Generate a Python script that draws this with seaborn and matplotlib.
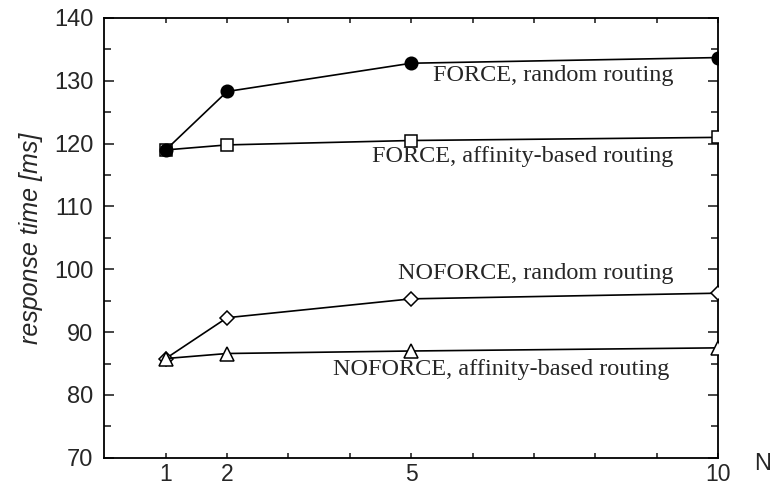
import matplotlib
matplotlib.use("Agg")
import matplotlib.pyplot as plt
import pandas as pd
import seaborn as sns

# N values and response times [ms]
n_values = [1, 2, 5, 10]
force_random = [119.0, 128.3, 132.8, 133.7]
force_affinity = [119.0, 119.8, 120.5, 121.0]
noforce_random = [85.8, 92.3, 95.3, 96.2]
noforce_affinity = [85.8, 86.6, 87.0, 87.5]

labels = ["FORCE, random routing", "FORCE, affinity-based routing",
          "NOFORCE, random routing", "NOFORCE, affinity-based routing"]

df = pd.DataFrame({
    "N": n_values * 4,
    "time": force_random + force_affinity + noforce_random + noforce_affinity,
    "series": [l for l in labels for _ in n_values],
})

sns.set_style("ticks")
plt.rcParams["font.family"] = ["Liberation Sans", "DejaVu Sans"]

fig = plt.figure(figsize=(7.73, 4.86), dpi=100)
ax = fig.add_axes([0.135, 0.058, 0.794, 0.905])

markers = {labels[0]: "o", labels[1]: "s", labels[2]: "D", labels[3]: "^"}
sizes = {labels[0]: 9, labels[1]: 8, labels[2]: 7, labels[3]: 10}
# draw order so the filled circle and the triangle sit on top at N=1
order = [labels[1], labels[0], labels[2], labels[3]]
for z, lab in enumerate(order):
    sub = df[df["series"] == lab]
    filled = lab == labels[0]
    sns.lineplot(data=sub, x="N", y="time", ax=ax, color="black", linewidth=1.2,
                 marker=markers[lab], markersize=sizes[lab],
                 markerfacecolor="black" if filled else "white",
                 markeredgecolor="black", markeredgewidth=1.1, legend=False,
                 zorder=3 + z)

# series annotations (right aligned, below each line)
text_pos = [(9.27, 130.8), (9.27, 117.9), (9.27, 99.4), (9.2, 84.0)]
for lab, (tx, ty) in zip(labels, text_pos):
    ax.text(tx, ty, lab, ha="right", va="center", fontsize=17.5,
            family=["Liberation Serif", "DejaVu Serif"])

ax.set_xlim(0, 10)
ax.set_ylim(70, 140)
ax.set_xticks([1, 2, 3, 4, 5, 6, 7, 8, 9, 10])
ax.set_xticklabels(["1", "2", "", "", "5", "", "", "", "", "10"])
ax.set_yticks(range(70, 141, 10))
ax.set_yticks(range(75, 140, 10), minor=True)
ax.tick_params(axis="both", which="both", direction="in", top=True, right=True,
               width=1.2, labelsize=17)
ax.tick_params(axis="x", which="major", length=3.5, pad=4, labelsize=16.5)
ax.tick_params(axis="y", which="major", length=7, pad=8)
ax.tick_params(axis="y", which="minor", length=5)
for s in ax.spines.values():
    s.set_linewidth(1.3)
    s.set_color("black")

ax.set_xlabel("")
ax.set_ylabel("response time [ms]", fontsize=18, style="italic", labelpad=8)
fig.text(0.986, 0.045, "N", fontsize=17, ha="center", va="center")

fig.savefig("out.png", dpi=100)
